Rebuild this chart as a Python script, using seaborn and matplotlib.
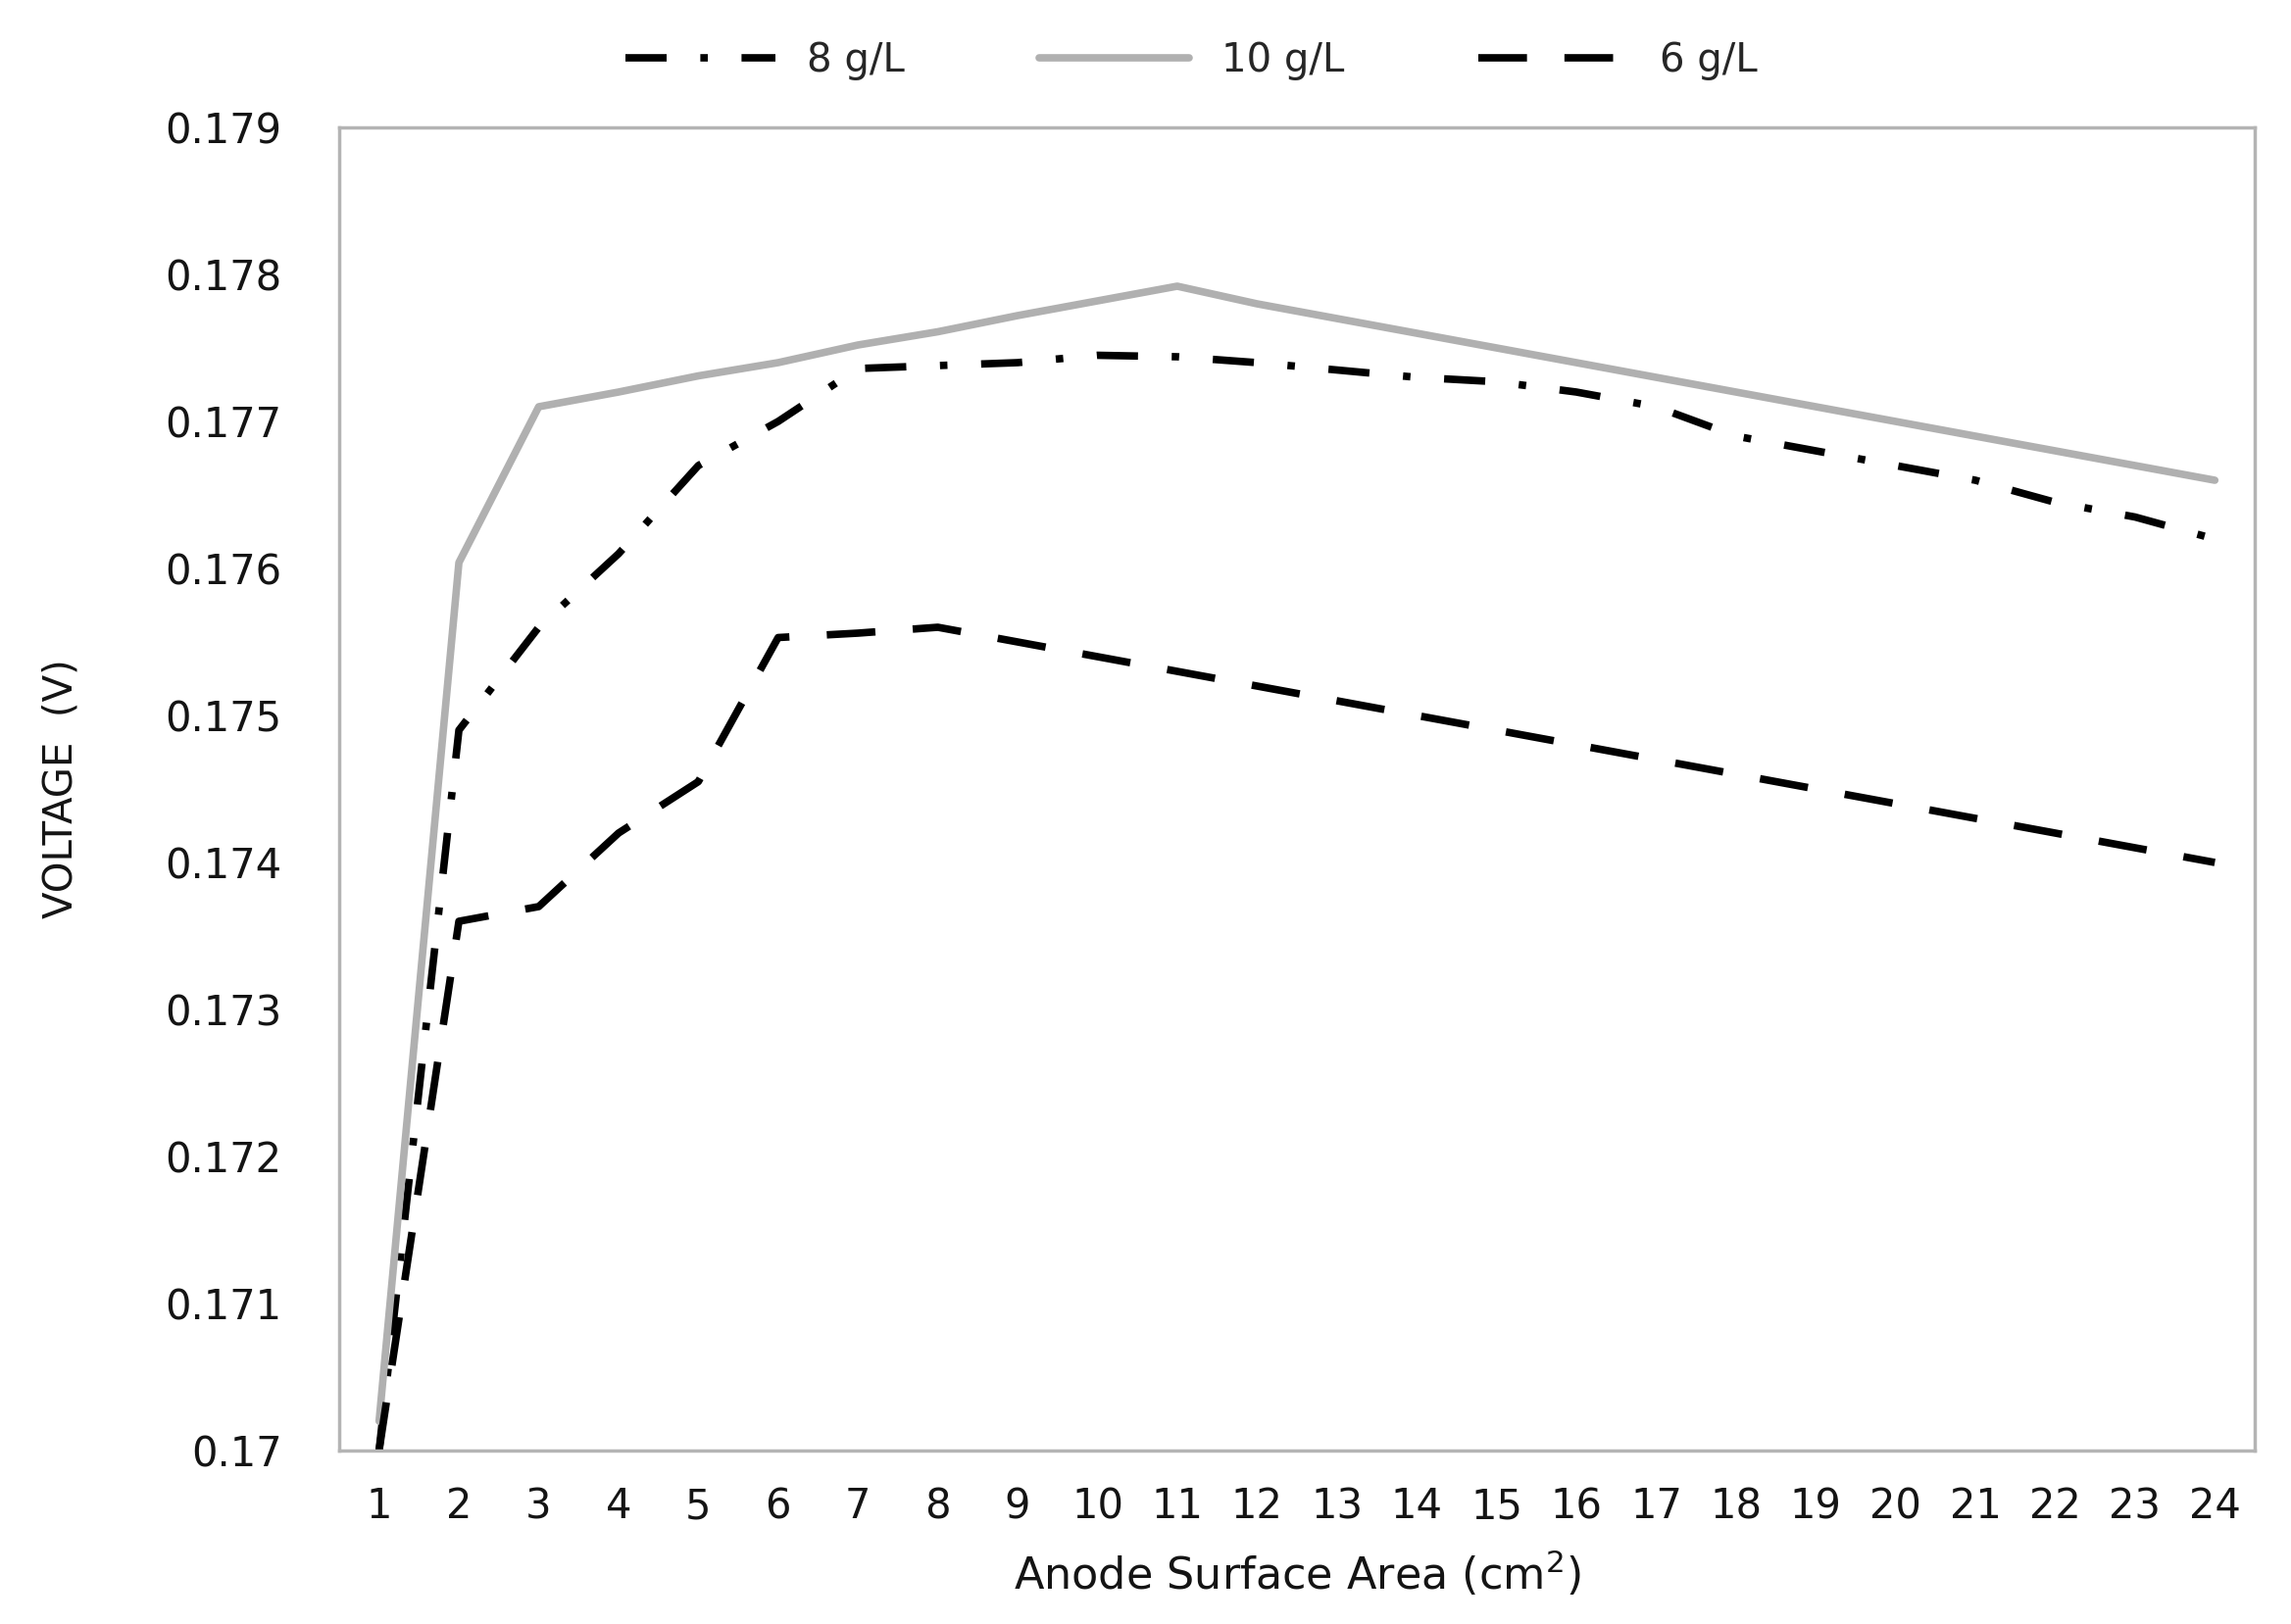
import matplotlib

matplotlib.use("Agg")
import matplotlib.pyplot as plt
import numpy as np
import pandas as pd
import seaborn as sns

# Data
area = list(range(1, 25))
v_8 = [0.1700, 0.1749, 0.1756, 0.1761, 0.1767, 0.1770, 0.17736, 0.17738,
       0.1774, 0.17745, 0.17744, 0.1774, 0.17735, 0.1773, 0.17727, 0.1772,
       0.1771, 0.1769, 0.1768, 0.1767, 0.1766, 0.17645, 0.17635, 0.1762]
v_10 = [0.1702, 0.17604, 0.1771, 0.1772, 0.17731, 0.1774, 0.17752, 0.17761,
        0.17772, 0.17782, 0.17792, 0.1778, 0.1777, 0.1776, 0.1775, 0.1774,
        0.1773, 0.1772, 0.1771, 0.1770, 0.1769, 0.1768, 0.1767, 0.1766]
v_6 = [0.1700, 0.1736, 0.1737, 0.1742, 0.17455, 0.17553, 0.17556, 0.1756,
       0.1755, 0.1754, 0.1753, 0.1752, 0.1751, 0.1750, 0.1749, 0.1748,
       0.1747, 0.1746, 0.1745, 0.1744, 0.1743, 0.1742, 0.1741, 0.1740]
series = ["8 g/L", "10 g/L", "6 g/L"]

df = pd.DataFrame({"area": area * 3,
                   "voltage": v_8 + v_10 + v_6,
                   "conc": np.repeat(series, len(area))})

sns.set_style("white")
plt.rcParams["font.family"] = ["DejaVu Sans"]

fig = plt.figure(figsize=(23.37, 16.57), dpi=100)
ax = fig.add_axes([346 / 2337, 1 - 1480 / 1657, (2300 - 346) / 2337, (1480 - 130) / 1657])

sns.lineplot(data=df, x="area", y="voltage", hue="conc", style="conc",
             palette={"8 g/L": "black", "10 g/L": "#b0b0b0", "6 g/L": "black"},
             dashes={"8 g/L": (5.5, 4.5, 1.0, 4.5), "10 g/L": "", "6 g/L": (6.5, 5)},
             linewidth=5.5, ax=ax, legend=True)

ax.set_xlim(0.5, 24.5)
ax.set_ylim(0.170, 0.179)
ax.set_xticks(area)
yt = np.round(np.arange(0.170, 0.17901, 0.001), 3)
ax.set_yticks(yt)
ax.set_yticklabels(["0.17"] + [f"{v:.3f}" for v in yt[1:]])
ax.tick_params(axis="both", labelsize=30, colors="#141414", length=0)
ax.tick_params(axis="x", pad=26)
ax.tick_params(axis="y", pad=42)
for sp in ax.spines.values():
    sp.set_color("#b4b4b4")
    sp.set_linewidth(2.5)

ax.set_xlabel("Anode Surface Area (cm$^2$)", fontsize=32, color="#141414", labelpad=16)
ax.set_ylabel("VOLTAGE  (V)", fontsize=29, color="#141414", labelpad=62)

handles, labels = ax.get_legend_handles_labels()
for h in handles:
    h.set_linewidth(5.5)
ax.legend(handles, labels, loc="center", bbox_to_anchor=(0.445, 1.05),
          ncol=3, frameon=False, fontsize=29, handlelength=3.8,
          columnspacing=3.4, handletextpad=0.8, borderaxespad=0.0)

fig.savefig("out.png", dpi=100)
